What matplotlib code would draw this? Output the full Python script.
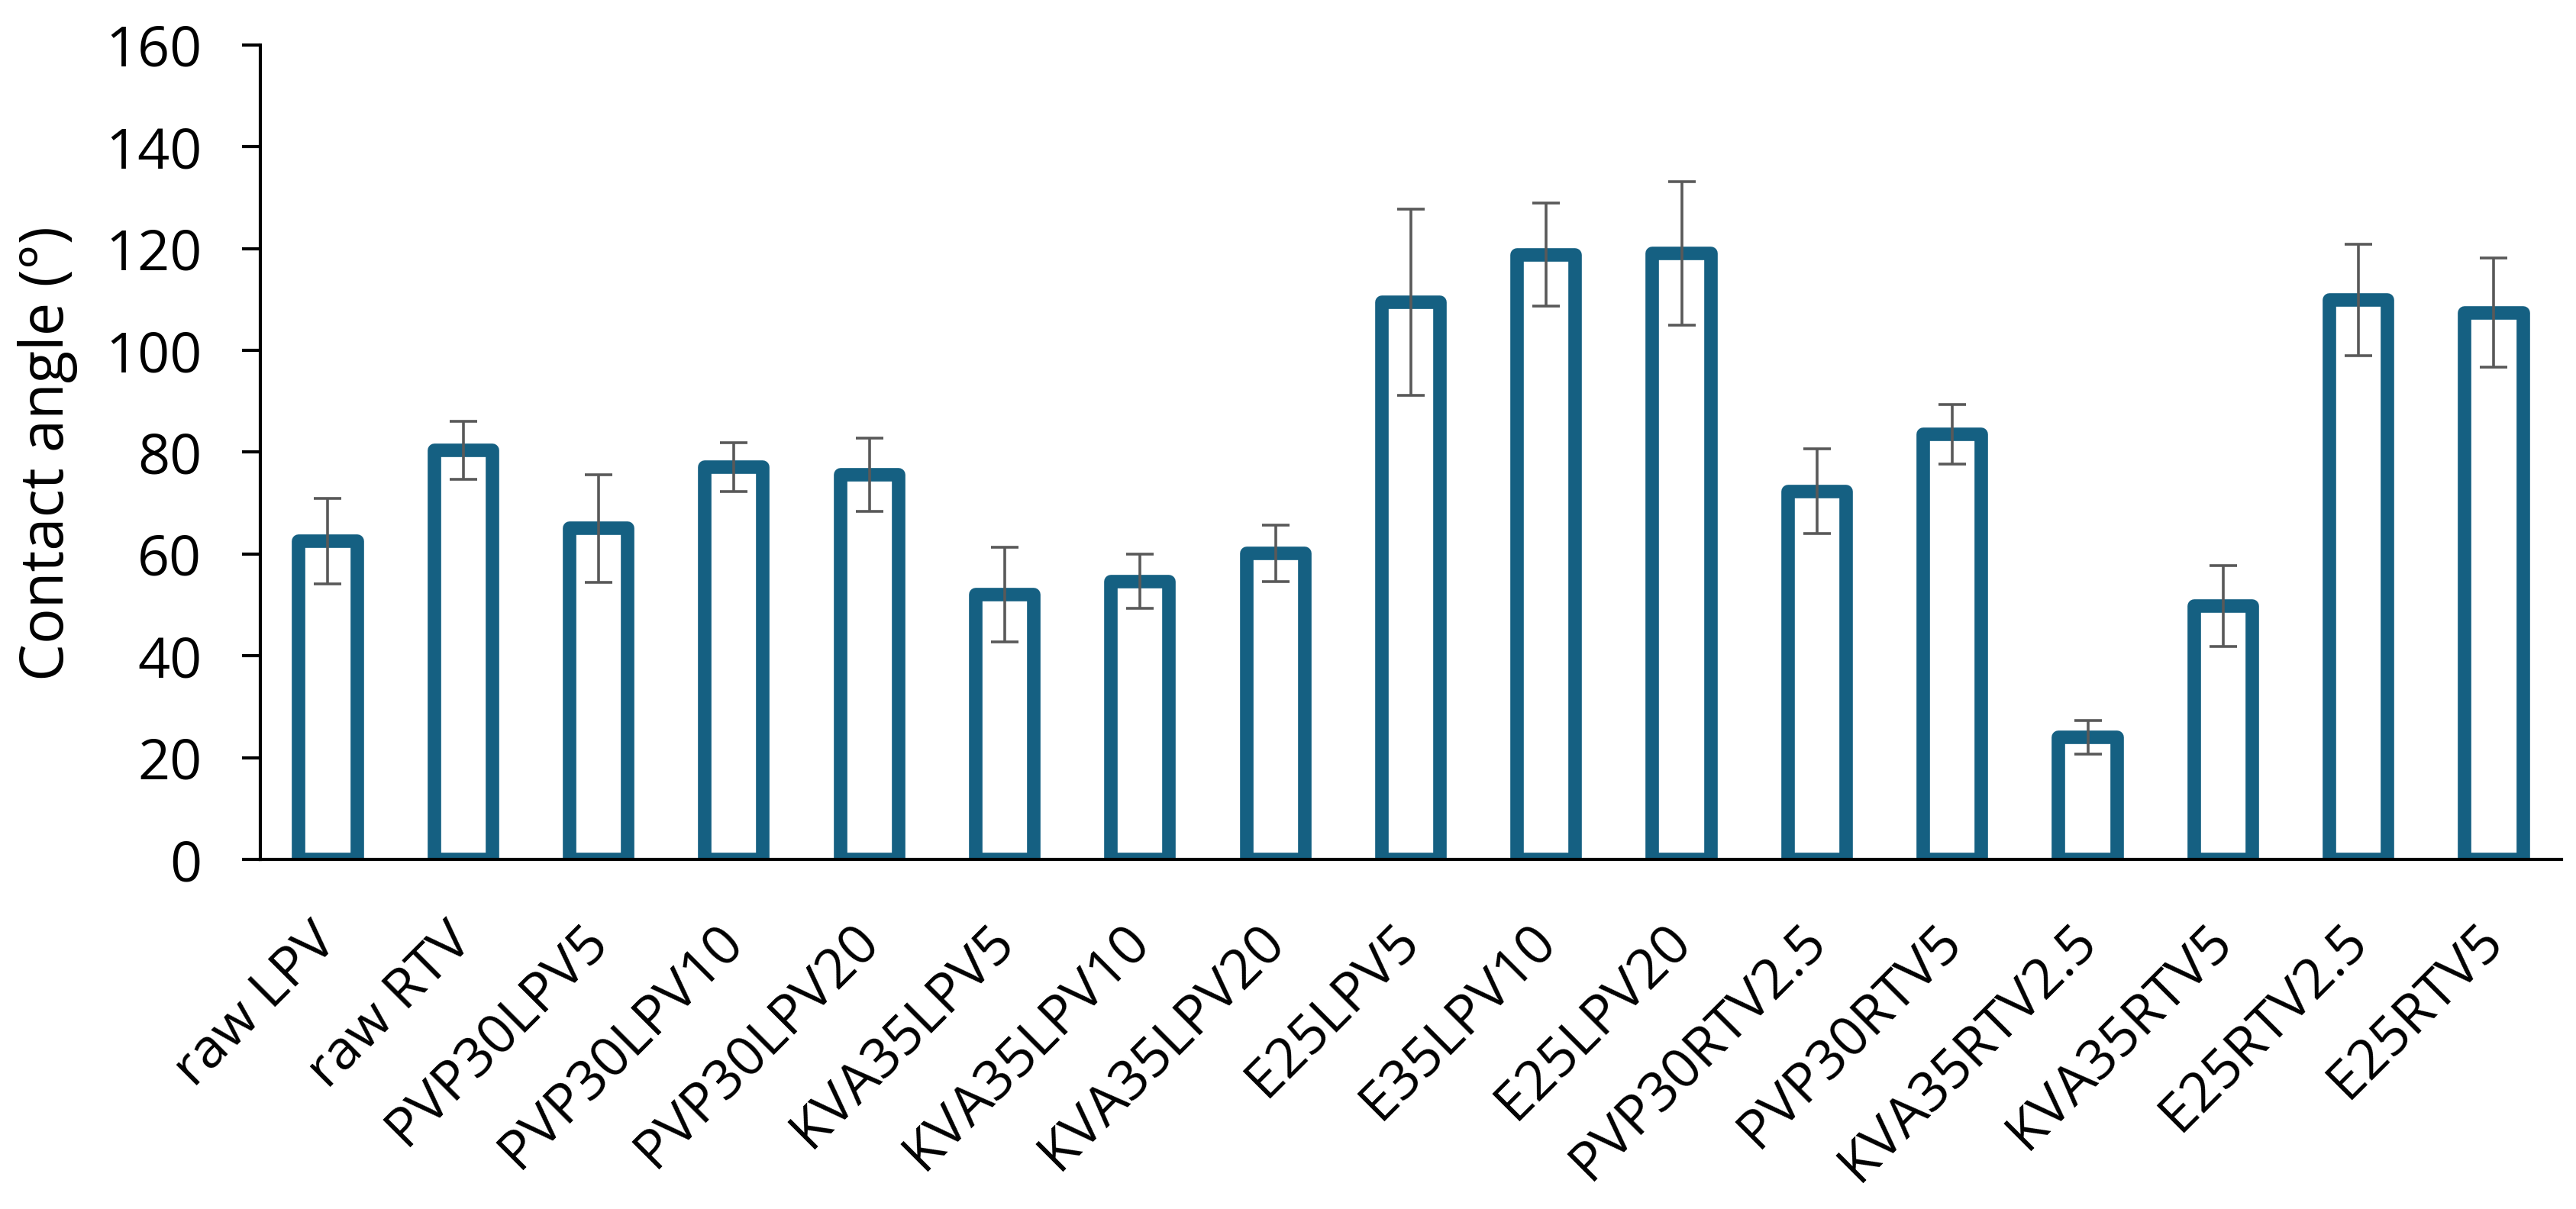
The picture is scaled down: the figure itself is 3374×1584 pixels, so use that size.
import matplotlib
matplotlib.use("Agg")
import matplotlib.pyplot as plt
import matplotlib.transforms as mtransforms
import numpy as np

categories = ["raw LPV", "raw RTV", "PVP30LPV5", "PVP30LPV10", "PVP30LPV20",
              "KVA35LPV5", "KVA35LPV10", "KVA35LPV20", "E25LPV5", "E35LPV10",
              "E25LPV20", "PVP30RTV2.5", "PVP30RTV5", "KVA35RTV2.5", "KVA35RTV5",
              "E25RTV2.5", "E25RTV5"]
values = [62.5, 80.3, 65.0, 77.0, 75.6, 52.0, 54.6, 60.1, 109.5, 118.8,
          119.1, 72.3, 83.5, 24.0, 49.8, 109.9, 107.4]
errors = [8.4, 5.7, 10.6, 4.8, 7.2, 9.3, 5.3, 5.5, 18.3, 10.1,
          14.1, 8.3, 5.8, 3.3, 8.0, 11.0, 10.7]
yticks = [0, 20, 40, 60, 80, 100, 120, 140, 160]

plt.rcParams['font.family'] = ['Open Sans', 'DejaVu Sans']

DPI = 100
fig = plt.figure(figsize=(33.74, 15.84), dpi=DPI)
ax = fig.add_axes([0.101, 0.2891, 0.8934, 0.6738])

x = np.arange(len(categories))
ax.bar(x, values, width=0.43, facecolor='white', edgecolor='#156082',
       linewidth=12.7, joinstyle='round', zorder=2)
ax.errorbar(x, values, yerr=errors, fmt='none', ecolor='#595959',
            elinewidth=2.6, capsize=13, capthick=2.6, zorder=3)

ax.set_xlim(-0.5, len(categories) - 0.5)
ax.set_ylim(0, 160)
ax.set_yticks(yticks)
ax.set_yticklabels([str(t) for t in yticks], fontsize=53)
ax.tick_params(axis='y', length=17, width=3, pad=38, direction='out', colors='black')
ax.set_xticks([])

for s in ['top', 'right']:
    ax.spines[s].set_visible(False)
for s in ['left', 'bottom']:
    ax.spines[s].set_linewidth(3)
    ax.spines[s].set_zorder(4)

offset = mtransforms.ScaledTranslation(10 / 72, -79 / 72, fig.dpi_scale_trans)
trans = ax.get_xaxis_transform() + offset
for i, lab in enumerate(categories):
    ax.text(i, 0, lab, transform=trans, rotation=45, rotation_mode='anchor',
            ha='right', va='baseline', fontsize=52)

fig.text(0.0185, 0.625, "Contact angle (°)", rotation=90, ha='center',
         va='center', fontsize=56)

fig.savefig("out.png", dpi=DPI)
